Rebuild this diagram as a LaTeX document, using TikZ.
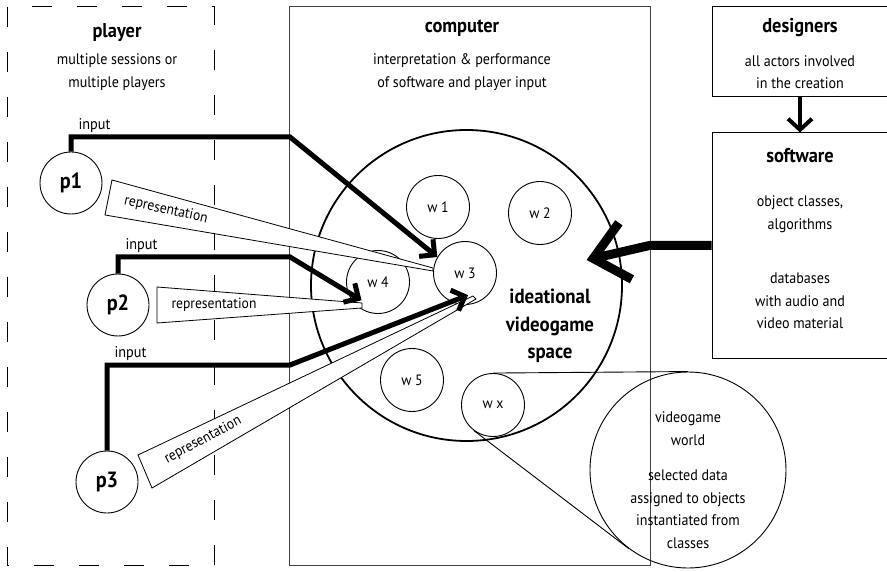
\documentclass[tikz,border=0pt]{standalone}
\usepackage{fontspec}
\setmainfont[FakeStretch=0.92]{PT Sans}
\usetikzlibrary{arrows.meta,calc}

\begin{document}
\begin{tikzpicture}[x=1pt, y=-1pt,
    world/.style={draw, circle, line width=0.9pt, minimum size=63pt, inner sep=0pt, font=\fontsize{15}{17}\selectfont},
    playerball/.style={draw, circle, line width=0.9pt, minimum size=62pt, inner sep=0pt, font=\bfseries\fontsize{22}{24}\selectfont},
    heading/.style={anchor=base, inner sep=0pt, font=\bfseries\fontsize{20}{22}\selectfont},
    notes/.style={align=center, inner sep=0pt, font=\fontsize{15.3}{22.5}\selectfont},
    inputlabel/.style={anchor=base west, inner sep=0pt, xshift=5pt, yshift=7pt, font=\fontsize{15.5}{18}\selectfont},
    inputline/.style={line width=5pt, -{Straight Barb[length=11pt, width=22pt]}},
    repwedge/.style={draw, fill=white, line width=0.8pt},
    reptext/.style={inner sep=0pt, font=\fontsize{14.8}{16}\selectfont},
    box/.style={draw, line width=1pt, minimum width=176pt, inner sep=0pt}
]
\useasboundingbox (0,0) rectangle (887,572);

% frames
\draw[line width=1pt, dash pattern=on 20pt off 25pt] (7,7) rectangle (214,565);
\draw[line width=1pt, black!75] (289,7) rectangle (650,565);
\node[box, minimum height=90pt] (designers) at (800,52) {};
\node[box, minimum height=225pt] (software) at (800,245.5) {};

% headings and notes
\node[heading] at (117,38) {player};
\node[notes] at (117,72) {multiple sessions or\\multiple players};
\node[heading] at (462,33) {computer};
\node[notes] at (462,72) {interpretation \& performance\\of software and player input};
\node[heading] at (800,33) {designers};
\node[notes] at (800,72) {all actors involved\\in the creation};
\node[heading] at (800,163) {software};
\node[notes] at (800,214) {object classes,\\algorithms};
\node[notes] at (800,301) {databases\\with audio and\\video material};

% ideational videogame space
\node[draw, circle, line width=1.8pt, minimum size=311pt, inner sep=0pt] (space) at (466.5,285.5) {};
\node[align=center, font=\bfseries\fontsize{20.5}{27.5}\selectfont] at (550,326) {ideational\\videogame\\space};

% worlds
\node[world] (w1) at (438,207) {w 1};
\node[world] (w2) at (540,213) {w 2};
\node[world] (w3) at (465,273) {w 3};
\node[world] (w4) at (378,282) {w 4};
\node[world] (w5) at (412,380) {w 5};
\node[world] (wx) at (493,405) {w x};

% videogame world, enlarged
\node[draw, circle, line width=0.9pt, minimum size=196pt, inner sep=0pt] (vworld) at (688,470) {};
\node[notes] at (688,480) {videogame\\world\\[13pt]selected data\\assigned to objects\\instantiated from\\classes};
\draw[line width=0.9pt] (wx.north) -- (vworld.north);
\draw[line width=0.9pt] (wx.233) -- (vworld.233);

% players
\node[playerball] (p1) at (71,183) {p1};
\node[playerball] (p2) at (118,305) {p2};
\node[playerball] (p3) at (107,482) {p3};

% representation
\draw[repwedge] (112,180) -- (433,268) -- (433,271) -- (105,215) -- cycle;
\node[reptext, rotate=-12.5] at (166,210) {representation};
\draw[repwedge] (157,287) -- (362,303) -- (362,308) -- (157,323) -- cycle;
\node[reptext] at (214,305) {representation};
\draw[repwedge] (138,455) -- (473,296) -- (476,299) -- (152,488) -- cycle;
\node[reptext, rotate=28] at (203,440) {representation};

% input
\coordinate (k1) at (290,137);
\coordinate (k2) at (290,257);
\coordinate (k3) at (290,365);
\draw[inputline] (p1.north) |- node[pos=0.5, inputlabel] {input} (k1) -- (w3.150);
\draw[inputline] (p2.north) |- node[pos=0.5, inputlabel] {input} (k2) -- ($(w4.center)!0.77!(w4.228)$);
\draw[inputline] (p3.north) |- node[pos=0.5, inputlabel] {input} (k3) -- ($(w3.center)!0.7!(w3.-82)$);

% software and designers
\draw[line width=4pt, -{Straight Barb[length=11pt, width=24pt]}] (designers.south) -- (software.north);
\draw[line width=9pt, -{Straight Barb[length=33pt, width=58pt]}] (software.west) -- ++(-62,0) -- ($(space.center)!0.785!(space.12)$);
\end{tikzpicture}
\end{document}
